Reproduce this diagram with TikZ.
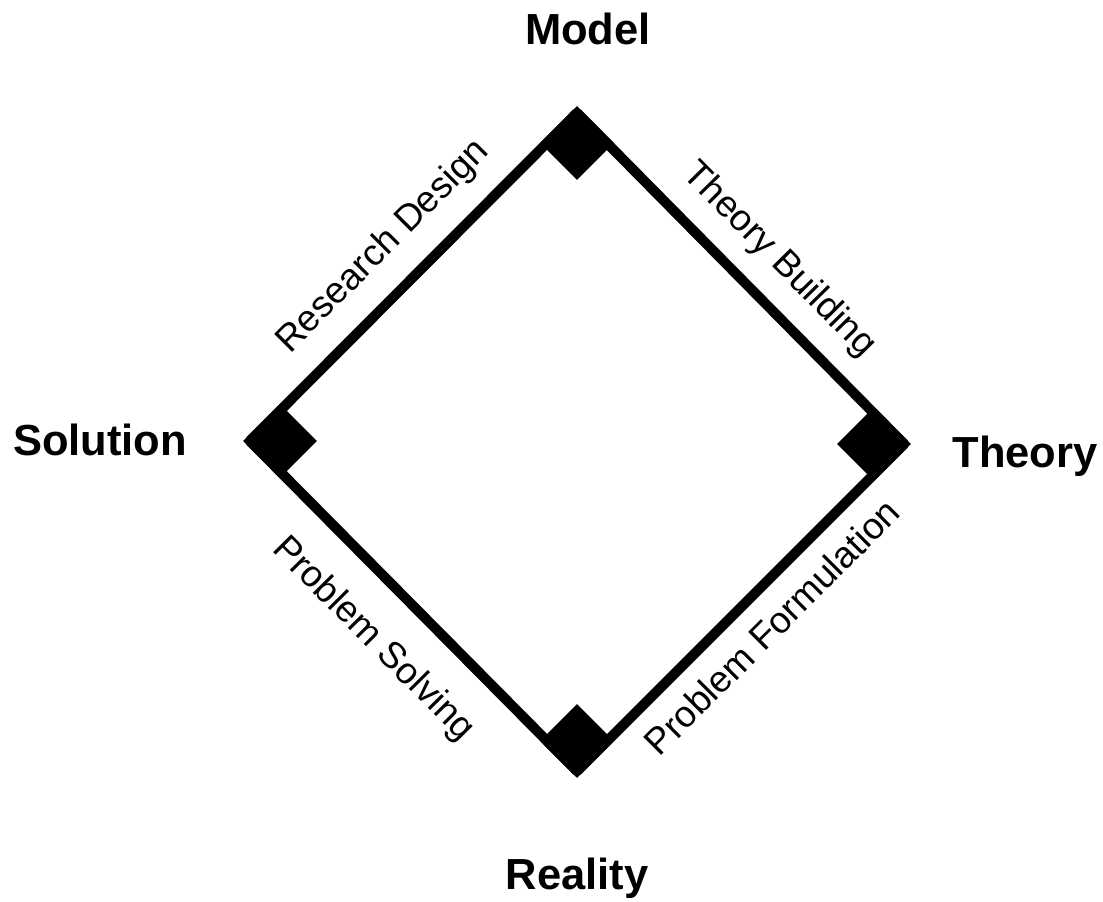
\documentclass[tikz,border=0pt]{standalone}
\usepackage{fontspec}
\setmainfont{Liberation Sans}
\usetikzlibrary{shapes.geometric}
\begin{document}
\begin{tikzpicture}[x=1pt,y=-1pt,
  corner/.style={diamond, fill=black, draw=none, minimum width=74pt, minimum height=74pt, inner sep=0pt},
  edge/.style={line width=10pt, black},
  vertexlabel/.style={font=\fontsize{43.5}{52}\selectfont\bfseries, anchor=base, inner sep=0pt},
  edgelabel/.style={font=\fontsize{37}{44}\selectfont, sloped, inner sep=0pt}]
\useasboundingbox (0,0) rectangle (1103,902);
% corner squares
\node[corner] (M) at (577,143) {};
\node[corner] (S) at (280,441) {};
\node[corner] (T) at (874,444) {};
\node[corner] (R) at (577,741) {};
% vertex labels
\node[vertexlabel] (lm) at (588,44) {Model};
\node[vertexlabel] (ls) at (100,455) {Solution};
\node[vertexlabel] (lt) at (1025,467) {Theory};
\node[vertexlabel] (lr) at (577,889) {Reality};
% edges
\draw[edge] ([xshift=7pt]S.west) -- node[edgelabel, above=20pt, pos=.5] (e1) {Research Design} ([yshift=-7pt]M.north);
\draw[edge] ([yshift=-7pt]M.north) -- node[edgelabel, above=18pt, pos=.53] (e2) {Theory Building} ([xshift=-7pt]T.east);
\draw[edge] ([xshift=7pt]S.west) -- node[edgelabel, below=30pt, pos=.49] (e3) {Problem Solving} ([yshift=7pt]R.south);
\draw[edge] ([yshift=7pt]R.south) -- node[edgelabel, below=17pt, pos=.518] (e4) {Problem Formulation} ([xshift=-7pt]T.east);
\end{tikzpicture}
\end{document}
